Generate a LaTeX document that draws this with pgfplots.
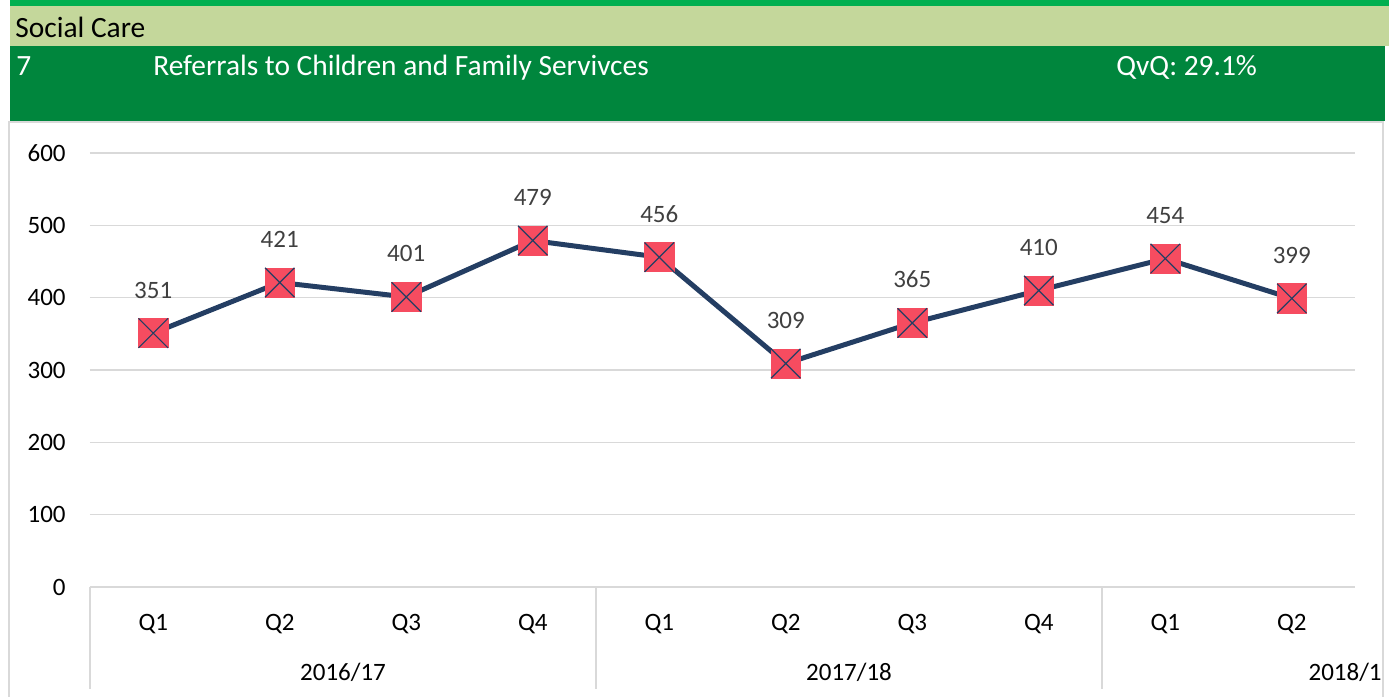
\documentclass[border=0pt]{standalone}
\usepackage{pgfplots}
\pgfplotsset{compat=1.18}
\usepackage{fontspec}
\setmainfont{Carlito}

\definecolor{topgreen}{RGB}{0,176,80}
\definecolor{lightband}{RGB}{196,215,155}
\definecolor{darkband}{RGB}{0,134,61}
\definecolor{gridgray}{RGB}{217,217,217}
\definecolor{navyline}{RGB}{36,62,99}
\definecolor{markred}{RGB}{246,76,96}
\definecolor{labelgray}{RGB}{64,64,64}

\begin{document}
\begin{tikzpicture}
% pixel grid of the reference: 1px = 0.5pt, origin top left
\begin{scope}[x=0.5pt,y=-0.5pt]
\path[use as bounding box] (0,0) rectangle (1389,697);
\fill[topgreen] (10,0) rectangle (1389,6);
\fill[lightband] (10,6) rectangle (1389,46);
\fill[darkband] (10,46) rectangle (1385,121);
\draw[gridgray, line width=0.6pt] (9,700) -- (9,122) -- (1383,122) -- (1383,700);
\node[anchor=base west, inner sep=0pt, font=\fontsize{14.7}{17}\selectfont] at (15,37) {Social Care};
\node[anchor=base west, inner sep=0pt, text=white, font=\fontsize{14.7}{17}\selectfont] at (16,75) {7};
\node[anchor=base west, inner sep=0pt, text=white, font=\fontsize{14.7}{17}\selectfont] at (153,75) {Referrals to Children and Family Servivces};
\node[anchor=base west, inner sep=0pt, text=white, font=\fontsize{14.7}{17}\selectfont] at (1116,75) {QvQ: 29.1\%};
\end{scope}

\begin{axis}[
at={(45pt,-293.5pt)},
anchor=south west,
scale only axis,
width=632.5pt,
height=217pt,
xmin=-0.5, xmax=9.5,
ymin=0, ymax=600,
xtick={0,...,9},
xticklabels={Q1,Q2,Q3,Q4,Q1,Q2,Q3,Q4,Q1,Q2},
ytick={0,100,...,600},
/pgf/number format/assume math mode=true,
axis line style={draw=none},
major tick style={draw=none},
ymajorgrids,
grid style={gridgray, line width=0.75pt},
xticklabel style={anchor=base, inner sep=0pt, yshift=-21.5pt, font=\fontsize{12.5}{14}\selectfont},
yticklabel style={anchor=east, inner sep=0pt, xshift=-12pt, font=\fontsize{12.5}{14}\selectfont},
clip=false,
]
\addplot[
    navyline, line width=2.5pt,
    mark=square*,
    mark options={fill=markred, draw=markred, line width=0.3pt, mark size=7.3pt},
    nodes near coords,
    every node near coord/.append style={anchor=base, inner sep=0pt, yshift=17.5pt, text=labelgray, font=\fontsize{12.5}{14}\selectfont},
] coordinates {
(0,351) (1,421) (2,401) (3,479) (4,456) (5,309) (6,365) (7,410) (8,454) (9,399)
};
\addplot[
    only marks, mark=x,
    mark options={draw=navyline, line width=0.6pt, mark size=10.4pt},
] coordinates {
(0,351) (1,421) (2,401) (3,479) (4,456) (5,309) (6,365) (7,410) (8,454) (9,399)
};
% category group separators and group names
\draw[gridgray, line width=0.75pt] (axis cs:-0.5,0) -- ++(0pt,-51pt);
\draw[gridgray, line width=0.75pt] (axis cs:3.5,0) -- ++(0pt,-51pt);
\draw[gridgray, line width=0.75pt] (axis cs:7.5,0) -- ++(0pt,-51pt);
\node[anchor=base, inner sep=0pt, yshift=-46.5pt, font=\fontsize{12.5}{14}\selectfont] at (axis cs:1.5,0) {2016/17};
\node[anchor=base, inner sep=0pt, yshift=-46.5pt, font=\fontsize{12.5}{14}\selectfont] at (axis cs:5.5,0) {2017/18};
\end{axis}

\begin{scope}[x=0.5pt,y=-0.5pt]
\node[anchor=base east, inner sep=0pt, font=\fontsize{12.5}{14}\selectfont] at (1382,680) {2018/1};
\end{scope}
\end{tikzpicture}
\end{document}
